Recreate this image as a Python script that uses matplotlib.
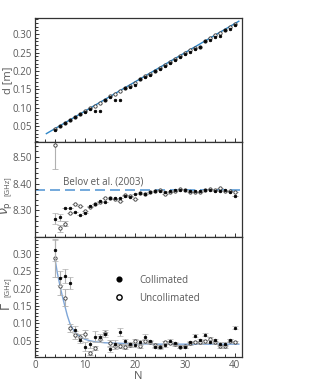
import matplotlib
matplotlib.use("Agg")
import matplotlib.pyplot as plt
from matplotlib.ticker import MultipleLocator
import numpy as np

plt.rcParams['font.family'] = ['Open Sans', 'DejaVu Sans']
plt.rcParams['mathtext.fontset'] = 'dejavusans'

# ---- data ----
N = list(range(4, 41))

# panel 1: distance d [m]
d_coll = [0.041, 0.050, 0.058, 0.066, 0.076, 0.082, 0.090, 0.097, 0.092, 0.092,
          0.122, 0.130, 0.120, 0.121, 0.154, 0.157, 0.163, 0.178, 0.184, 0.188,
          0.199, 0.206, 0.213, 0.222, 0.230, 0.237, 0.245, 0.252, 0.260, 0.266,
          0.280, 0.285, 0.291, 0.296, 0.311, 0.315, 0.325]
d_uncoll = [0.043, 0.051, 0.059, 0.067, 0.075, 0.083, 0.091, 0.099, 0.106, 0.114,
            0.122, 0.131, 0.138, 0.146, 0.154, 0.160, 0.168, 0.178, 0.186, 0.193,
            0.201, 0.209, 0.217, 0.225, 0.233, 0.241, 0.249, 0.256, 0.262, 0.265,
            0.281, 0.289, 0.297, 0.304, 0.312, 0.320, 0.328]
d_fit_N = [2.3, 40.8]
d_fit = [0.030, 0.335]

# panel 2: nu_p [GHz]
nu_coll = [8.269, 8.273, 8.307, 8.310, 8.294, 8.282, 8.288, 8.315, 8.325, 8.334,
           8.330, 8.344, 8.345, 8.345, 8.352, 8.349, 8.359, 8.363, 8.360, 8.369,
           8.371, 8.371, 8.369, 8.372, 8.375, 8.377, 8.375, 8.372, 8.372, 8.371,
           8.376, 8.376, 8.371, 8.371, 8.375, 8.369, 8.354]
nu_coll_err = [0.020, 0.012] + [0.0] * 35
nu_uncoll = [8.544, 8.232, 8.250, 8.288, 8.322, 8.315, 8.297, 8.312, 8.325, 8.332,
             8.344, 8.345, 8.342, 8.334, 8.356, 8.352, 8.342, 8.363, 8.360, 8.367,
             8.371, 8.375, 8.362, 8.367, 8.373, 8.381, 8.375, 8.367, 8.367, 8.369,
             8.375, 8.381, 8.375, 8.385, 8.371, 8.371, 8.370]
nu_uncoll_err = [0.090, 0.012, 0.008] + [0.0] * 34
belov = 8.377

# panel 3: Gamma [GHz]
g_coll = [0.311, 0.232, 0.237, 0.217, 0.081, 0.052, 0.033, 0.040, 0.062, 0.060,
          0.068, 0.025, 0.041, 0.076, 0.048, 0.041, 0.038, 0.045, 0.062, 0.048,
          0.033, 0.031, 0.038, 0.050, 0.043, 0.033, 0.033, 0.046, 0.064, 0.052,
          0.067, 0.047, 0.051, 0.041, 0.041, 0.052, 0.088]
g_coll_err = [0.030, 0.020, 0.020, 0.018, 0.010, 0.010, 0.012, 0.010, 0.015, 0.008,
              0.008, 0.008, 0.010, 0.012, 0.008, 0.006, 0.006, 0.006, 0.006, 0.005,
              0.005, 0.005, 0.005, 0.005, 0.004, 0.004, 0.004, 0.004, 0.004, 0.004,
              0.004, 0.004, 0.004, 0.005, 0.005, 0.004, 0.005]
g_uncoll = [0.288, 0.208, 0.174, 0.086, 0.067, 0.060, 0.069, 0.014, 0.028, 0.055,
            0.073, 0.043, 0.034, 0.034, 0.031, 0.037, 0.048, 0.034, 0.048, 0.045,
            0.037, 0.033, 0.045, 0.044, 0.040, 0.033, 0.034, 0.043, 0.046, 0.045,
            0.048, 0.056, 0.045, 0.034, 0.034, 0.050, 0.046]
g_uncoll_err = [0.055, 0.025, 0.025, 0.012, 0.012, 0.010, 0.012, 0.006, 0.006, 0.008,
                0.008, 0.008, 0.008, 0.006, 0.006, 0.006, 0.006, 0.006, 0.005, 0.005,
                0.005, 0.004, 0.004, 0.004, 0.004, 0.004, 0.004, 0.004, 0.004, 0.004,
                0.004, 0.004, 0.004, 0.004, 0.004, 0.004, 0.004]
g_fit_N = [4, 4.5, 5, 5.5, 6, 6.5, 7, 7.5, 8, 9, 10, 11, 12, 14, 16, 20, 25, 30, 35, 40.8]
g_fit = [0.288, 0.245, 0.210, 0.178, 0.150, 0.122, 0.100, 0.086, 0.075, 0.062,
         0.054, 0.050, 0.047, 0.044, 0.043, 0.041, 0.040, 0.040, 0.040, 0.040]

txt = '#595959'
ecol = '#b0b0b0'
blue = '#2e86c8'

fig = plt.figure(figsize=(3.29, 3.81), dpi=100)
ax1 = fig.add_axes([0.106, 0.627, 0.629, 0.326])
ax2 = fig.add_axes([0.106, 0.378, 0.629, 0.249])
ax3 = fig.add_axes([0.106, 0.063, 0.629, 0.315])

mk_f = dict(marker='o', ms=1.9, mfc='black', mec='black', mew=0.5, ls='none')
mk_o = dict(marker='o', ms=2.4, mfc='white', mec='#333333', mew=0.6, ls='none')

# panel 1
ax1.plot(d_fit_N, d_fit, color=blue, lw=1.0, zorder=1)
ax1.plot(N, d_uncoll, zorder=2, **mk_o)
ax1.plot(N, d_coll, zorder=3, **mk_f)
ax1.set_ylim(0.007, 0.344)
ax1.yaxis.set_minor_locator(MultipleLocator(0.01))
ax1.set_yticks([0.05, 0.10, 0.15, 0.20, 0.25, 0.30])
ax1.set_yticklabels(['0.05', '0.10', '0.15', '0.20', '0.25', '0.30'])

# panel 2
ax2.axhline(belov, color='#5b9bd5', lw=1.2, ls=(0, (6, 3)), zorder=1)
ax2.text(5.7, 8.398, 'Belov et al. (2003)', fontsize=7, color=txt)
ax2.errorbar(N, nu_uncoll, yerr=nu_uncoll_err, ecolor=ecol, elinewidth=0.8,
             capsize=2, capthick=0.8, zorder=2, **mk_o)
ax2.errorbar(N, nu_coll, yerr=nu_coll_err, ecolor=ecol, elinewidth=0.8,
             capsize=2, capthick=0.8, zorder=3, **mk_f)
ax2.set_ylim(8.20, 8.555)
ax2.set_yticks([8.30, 8.40, 8.50])
ax2.set_yticklabels(['8.30', '8.40', '8.50'])
ax2.yaxis.set_minor_locator(MultipleLocator(0.02))

# panel 3
ax3.plot(g_fit_N, g_fit, color='#7ea6d8', lw=1.0, zorder=1)
ax3.errorbar(N, g_uncoll, yerr=g_uncoll_err, ecolor=ecol, elinewidth=0.8,
             capsize=2, capthick=0.8, zorder=2, **mk_o)
ax3.errorbar(N, g_coll, yerr=g_coll_err, ecolor=ecol, elinewidth=0.8,
             capsize=2, capthick=0.8, zorder=3, **mk_f)
ax3.plot([], [], label='Collimated', marker='o', ms=3.4, mfc='black', mec='black', ls='none')
ax3.plot([], [], label='Uncollimated', marker='o', ms=3.8, mfc='white', mec='black',
         mew=1.0, ls='none')
ax3.legend(loc='upper left', bbox_to_anchor=(0.34, 0.76), frameon=False, fontsize=7,
           labelcolor=txt, handletextpad=1.6, labelspacing=0.75, handlelength=1.0)
ax3.set_ylim(0.003, 0.349)
ax3.set_yticks([0.05, 0.10, 0.15, 0.20, 0.25, 0.30])
ax3.set_yticklabels(['0.05', '0.10', '0.15', '0.20', '0.25', '0.30'])
ax3.yaxis.set_minor_locator(MultipleLocator(0.01))
ax3.set_xlabel('N', fontsize=8, color=txt, labelpad=0)

for ax in (ax1, ax2, ax3):
    ax.set_xlim(0, 41.4)
    ax.xaxis.set_major_locator(MultipleLocator(10))
    ax.xaxis.set_minor_locator(MultipleLocator(2))
    ax.tick_params(which='both', direction='in', top=False, right=False,
                   labelsize=7, labelcolor=txt, color='#333333', width=0.7, pad=2)
    ax.tick_params(which='major', length=3)
    ax.tick_params(which='minor', length=2)
    for s in ax.spines.values():
        s.set_color('#333333')
        s.set_linewidth(0.9)
for ax in (ax1, ax2):
    ax.tick_params(labelbottom=False)

# y labels
fig.text(0.022, 0.79, 'd [m]', rotation=90, fontsize=8, color=txt, ha='center', va='center')
fig.text(0.020, 0.455, r'$\nu_{\mathrm{p}}$', rotation=90, fontsize=9, color=txt,
         ha='center', va='center')
fig.text(0.022, 0.512, '[GHz]', rotation=90, fontsize=5.5, color=txt, ha='center', va='center')
fig.text(0.021, 0.196, r'$\Gamma$', rotation=90, fontsize=9, color=txt,
         ha='center', va='center')
fig.text(0.022, 0.246, '[GHz]', rotation=90, fontsize=5.5, color=txt, ha='center', va='center')

fig.savefig('out.png', dpi=100)
